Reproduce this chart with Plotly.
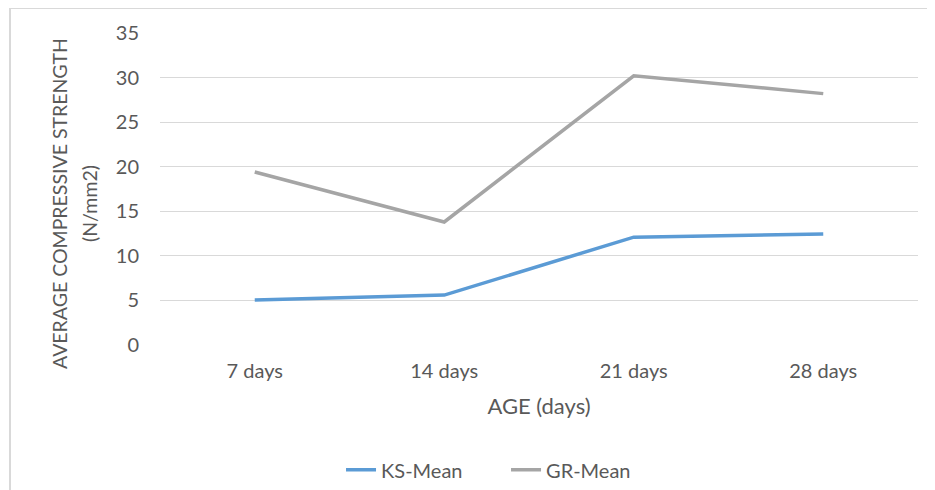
import plotly.graph_objects as go

categories = ["7 days", "14 days", "21 days", "28 days"]
ks_mean = [5.05, 5.6, 12.1, 12.45]
gr_mean = [19.4, 13.8, 30.2, 28.2]
y_ticks = [0, 5, 10, 15, 20, 25, 30, 35]

FONT = "Lato"
TXT = "#595959"

fig = go.Figure()
fig.add_trace(go.Scatter(x=categories, y=ks_mean, mode="lines", name="KS-Mean",
                         line=dict(color="#5B9BD5", width=3.5)))
fig.add_trace(go.Scatter(x=categories, y=gr_mean, mode="lines", name="GR-Mean",
                         line=dict(color="#A5A5A5", width=3.5)))

fig.update_layout(
    width=927, height=482,
    margin=dict(l=152, r=17, t=25, b=145, autoexpand=False),
    paper_bgcolor="white", plot_bgcolor="white",
    font=dict(family=FONT, color=TXT, size=20),
    showlegend=True,
    legend=dict(orientation="h", x=0.4565, xanchor="center", y=-0.40, yanchor="middle",
                font=dict(size=20, color=TXT), tracegroupgap=0, entrywidth=120),
    xaxis=dict(type="category", range=[-0.5, 3.5], showgrid=False, zeroline=False,
               showline=False, ticks="", tickfont=dict(size=20, color=TXT),
               ticklabelstandoff=12, automargin=False,
               title=dict(text="AGE (days)", font=dict(size=22, color=TXT), standoff=17)),
    yaxis=dict(range=[0, 35], tickvals=y_ticks, showgrid=True, gridcolor="#D9D9D9",
               gridwidth=1, zeroline=False, showline=False, ticks="",
               tickfont=dict(size=20, color=TXT), ticklabelstandoff=20, automargin=False),
)

fig.add_annotation(text="AVERAGE COMPRESSIVE STRENGTH", textangle=-90, showarrow=False,
                   xref="paper", yref="paper", x=-0.1319, y=0.452,
                   xanchor="center", yanchor="middle", font=dict(size=19.5, color=TXT))
fig.add_annotation(text="(N/mm2)", textangle=-90, showarrow=False,
                   xref="paper", yref="paper", x=-0.0923, y=0.452,
                   xanchor="center", yanchor="middle", font=dict(size=19.5, color=TXT))

# light frame around chart (top and left edges visible)
fig.add_shape(type="line", xref="paper", yref="paper", x0=-0.1979, x1=1.03, y0=1.0801, y1=1.0801,
              line=dict(color="#D9D9D9", width=2))
fig.add_shape(type="line", xref="paper", yref="paper", x0=-0.1979, x1=-0.1979, y0=1.0801, y1=-0.47,
              line=dict(color="#D9D9D9", width=2))

fig.write_html("out.html")
